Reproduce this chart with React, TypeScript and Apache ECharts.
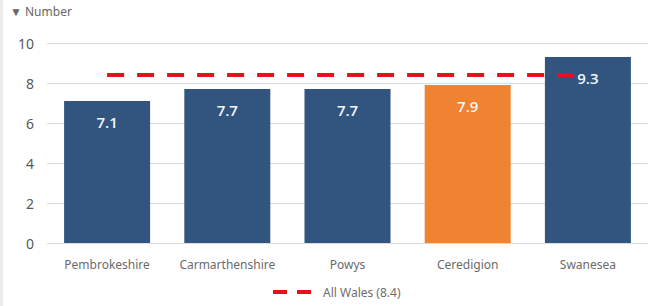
import React, { useEffect, useRef } from "react";
import * as echarts from "echarts";

const categories = ["Pembrokeshire", "Carmarthenshire", "Powys", "Ceredigion", "Swanesea"];
const values = [7.1, 7.7, 7.7, 7.9, 9.3];
const highlightIndex = 3;
const allWales = 8.4;
const allWalesName = "All Wales (8.4)";
const yTicks = { min: 0, max: 10, interval: 2 };

const BLUE = "#32557f";
const ORANGE = "#ef8331";
const FONT = "'Noto Sans', sans-serif";

export default function App() {
  const ref = useRef<HTMLDivElement>(null);
  useEffect(() => {
    if (!ref.current) return;
    const chart = echarts.init(ref.current, null, { renderer: "svg" });
    chart.setOption({
      animation: false,
      backgroundColor: "#ffffff",
      textStyle: { fontFamily: FONT },
      grid: { left: 47, right: -3, top: 43, bottom: 63 },
      graphic: [
        { type: "rect", left: 0, top: 0, shape: { width: 3, height: 306 }, style: { fill: "#ebebeb" } },
        {
          type: "text",
          left: 10,
          top: 5,
          style: { text: "▼ Number", fill: "#666666", font: `12px ${FONT}` },
        },
      ],
      legend: {
        bottom: 3,
        left: 266,
        itemWidth: 45,
        itemHeight: 10,
        itemGap: 10,
        itemStyle: { color: "rgba(0,0,0,0)", borderWidth: 0 },
        lineStyle: { type: [14, 10], width: 4 },
        textStyle: { color: "#6e6e6e", fontSize: 12, fontFamily: FONT },
        data: [allWalesName],
      },
      xAxis: {
        type: "category",
        data: categories,
        axisLine: { show: false },
        axisTick: { show: false },
        axisLabel: { color: "#6b6b6b", fontSize: 12, margin: 15, interval: 0, fontFamily: FONT },
      },
      yAxis: {
        type: "value",
        min: yTicks.min,
        max: yTicks.max,
        interval: yTicks.interval,
        axisLabel: { color: "#595959", fontSize: 14, margin: 13, fontFamily: FONT },
        splitLine: { lineStyle: { color: "#dcdcdc", width: 1 } },
      },
      series: [
        {
          type: "bar",
          data: values.map((v, i) => ({ value: v, itemStyle: { color: i === highlightIndex ? ORANGE : BLUE } })),
          barWidth: 86,
          z: 2,
        },
        {
          name: allWalesName,
          type: "line",
          data: categories.map(() => allWales),
          symbol: "none",
          lineStyle: { color: "#e8101a", width: 4, type: [17, 13] },
          itemStyle: { color: "#e8101a" },
          z: 3,
        },
        {
          type: "bar",
          data: values,
          barWidth: 86,
          barGap: "-100%",
          itemStyle: { color: "rgba(0,0,0,0)" },
          z: 4,
          silent: true,
          label: {
            show: true,
            position: "insideTop",
            distance: 13,
            color: "#f3f6fa",
            fontSize: 15,
            fontWeight: 600,
            fontFamily: "'Open Sans', sans-serif",
            formatter: (p: any) => p.value.toFixed(1),
          },
        },
      ],
    });
    return () => chart.dispose();
  }, []);
  return <div ref={ref} style={{ position: "absolute", left: 0, top: 0, width: 648, height: 306 }} />;
}
